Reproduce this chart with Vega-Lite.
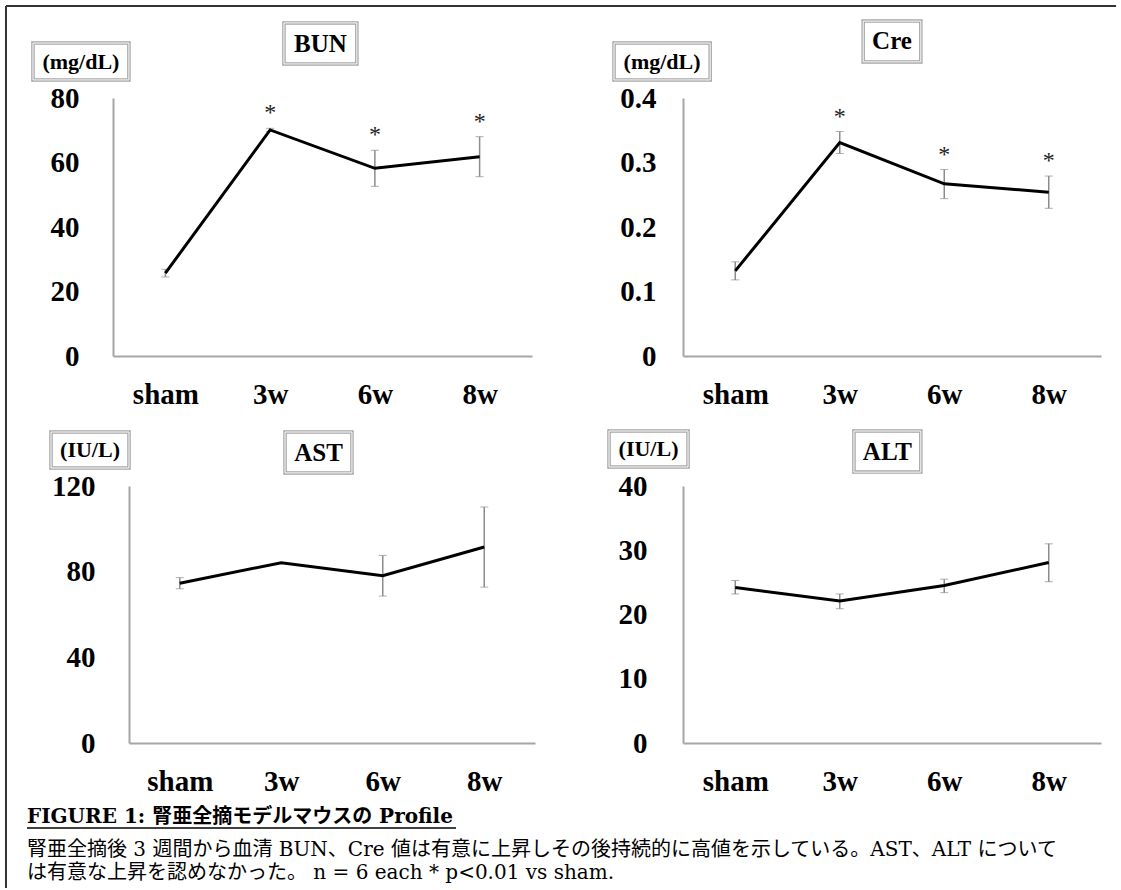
{
  "$schema": "https://vega.github.io/schema/vega-lite/v6.json",
  "padding": {"left": 4, "top": 4, "right": 0, "bottom": 0},
  "background": "#ffffff",
  "bounds": "flush",
  "align": "none",
  "columns": 2,
  "spacing": {"row": 130, "column": 141},
  "datasets": {
    "d": [
      {"panel": "BUN", "t": "sham", "mean": 25.7, "lo": 24.5, "hi": 26.9, "sig": ""},
      {"panel": "BUN", "t": "3w", "mean": 70.1, "lo": 69.6, "hi": 70.6, "sig": "*"},
      {"panel": "BUN", "t": "6w", "mean": 58.2, "lo": 52.6, "hi": 63.8, "sig": "*"},
      {"panel": "BUN", "t": "8w", "mean": 61.8, "lo": 55.6, "hi": 68.0, "sig": "*"},
      {"panel": "Cre", "t": "sham", "mean": 0.132, "lo": 0.118, "hi": 0.146, "sig": ""},
      {"panel": "Cre", "t": "3w", "mean": 0.331, "lo": 0.314, "hi": 0.348, "sig": "*"},
      {"panel": "Cre", "t": "6w", "mean": 0.267, "lo": 0.244, "hi": 0.289, "sig": "*"},
      {"panel": "Cre", "t": "8w", "mean": 0.254, "lo": 0.229, "hi": 0.279, "sig": "*"},
      {"panel": "AST", "t": "sham", "mean": 74.6, "lo": 72.0, "hi": 77.2, "sig": ""},
      {"panel": "AST", "t": "3w", "mean": 84.2, "lo": 84.2, "hi": 84.2, "sig": ""},
      {"panel": "AST", "t": "6w", "mean": 78.1, "lo": 68.6, "hi": 87.6, "sig": ""},
      {"panel": "AST", "t": "8w", "mean": 91.5, "lo": 72.8, "hi": 110.2, "sig": ""},
      {"panel": "ALT", "t": "sham", "mean": 24.2, "lo": 23.2, "hi": 25.3, "sig": ""},
      {"panel": "ALT", "t": "3w", "mean": 22.1, "lo": 20.9, "hi": 23.2, "sig": ""},
      {"panel": "ALT", "t": "6w", "mean": 24.5, "lo": 23.4, "hi": 25.5, "sig": ""},
      {"panel": "ALT", "t": "8w", "mean": 28.1, "lo": 25.1, "hi": 31.0, "sig": ""}
    ]
  },
  "config": {
    "view": {"stroke": null},
    "axis": {
      "labelFont": "Liberation Serif",
      "labelFontWeight": "bold",
      "labelFontSize": 29,
      "labelColor": "#000000",
      "ticks": false,
      "grid": false,
      "domainColor": "#a6a6a6",
      "domainWidth": 2,
      "labelOverlap": false
    },
    "text": {"font": "Liberation Serif"}
  },
  "concat": [
    {
      "width": 419, "height": 258,
      "resolve": {"scale": {"x": "independent", "y": "independent"}},
      "layer": [
        {"data": {"name": "d"}, "transform": [{"filter": "datum.panel == 'BUN'"}],
         "mark": {"type": "errorbar", "ticks": {"size": 8, "color": "#8c8c8c", "strokeWidth": 1.5}, "rule": {"color": "#8c8c8c", "strokeWidth": 1.5}},
         "encoding": {
           "x": {"field": "t", "type": "nominal", "sort": ["sham", "3w", "6w", "8w"], "scale": {"type": "point", "padding": 0.5}, "axis": null},
           "y": {"field": "lo", "type": "quantitative", "scale": {"domain": [0, 80], "nice": false}, "axis": null},
           "y2": {"field": "hi"}}},
        {"data": {"name": "d"}, "transform": [{"filter": "datum.panel == 'BUN'"}],
         "mark": {"type": "line", "color": "#000000", "strokeWidth": 3},
         "encoding": {
           "x": {"field": "t", "type": "nominal", "sort": ["sham", "3w", "6w", "8w"], "scale": {"type": "point", "padding": 0.5}, "axis": {"title": null, "labelAngle": 0, "labelPadding": 24}},
           "y": {"field": "mean", "type": "quantitative", "scale": {"domain": [0, 80], "nice": false}, "axis": {"title": null, "values": [0, 20, 40, 60, 80], "labelPadding": 34}}}},
        {"data": {"name": "d"}, "transform": [{"filter": "datum.panel == 'BUN'"}],
         "mark": {"type": "text", "fontSize": 24, "baseline": "alphabetic", "dy": -8, "color": "#222222"},
         "encoding": {
           "x": {"field": "t", "type": "nominal", "sort": ["sham", "3w", "6w", "8w"], "scale": {"type": "point", "padding": 0.5}, "axis": null},
           "y": {"field": "hi", "type": "quantitative", "scale": {"domain": [0, 80], "nice": false}, "axis": null},
           "text": {"field": "sig"}}},
        {"data": {"values": [{}]},
         "mark": {"type": "rule", "color": "#333333", "strokeWidth": 2},
         "encoding": {
           "x": {"datum": -0.2554, "type": "quantitative", "scale": {"domain": [0, 1]}, "axis": null},
           "y": {"datum": 1.3566, "type": "quantitative", "scale": {"domain": [0, 1]}, "axis": null},
           "y2": {"datum": -2.062}}},
        {"data": {"values": [{}]},
         "mark": {"type": "rule", "color": "#333333", "strokeWidth": 2},
         "encoding": {
           "x": {"datum": -0.2554, "type": "quantitative", "scale": {"domain": [0, 1]}, "axis": null},
           "x2": {"datum": 2.394},
           "y": {"datum": 1.3566, "type": "quantitative", "scale": {"domain": [0, 1]}, "axis": null}}},
        {"data": {"values": [{}]},
         "mark": {"type": "rect", "fill": "#ffffff", "stroke": "#a6a6a6", "strokeWidth": 3.5},
         "encoding": {
           "x": {"datum": 0.408, "type": "quantitative", "scale": {"domain": [0, 1]}, "axis": null},
           "x2": {"datum": 0.582},
           "y": {"datum": 1.132, "type": "quantitative", "scale": {"domain": [0, 1]}, "axis": null},
           "y2": {"datum": 1.291}}},
        {"data": {"values": [{}]},
         "mark": {"type": "rect", "fillOpacity": 0, "stroke": "#ffffff", "strokeWidth": 1},
         "encoding": {
           "x": {"datum": 0.408, "type": "quantitative", "scale": {"domain": [0, 1]}, "axis": null},
           "x2": {"datum": 0.582},
           "y": {"datum": 1.132, "type": "quantitative", "scale": {"domain": [0, 1]}, "axis": null},
           "y2": {"datum": 1.291}}},
        {"data": {"values": [{}]},
         "mark": {"type": "text", "text": "BUN", "fontWeight": "bold", "fontSize": 25, "color": "#000000"},
         "encoding": {
           "x": {"datum": 0.495, "type": "quantitative", "scale": {"domain": [0, 1]}, "axis": null},
           "y": {"datum": 1.211, "type": "quantitative", "scale": {"domain": [0, 1]}, "axis": null}}},
        {"data": {"values": [{}]},
         "mark": {"type": "rect", "fill": "#ffffff", "stroke": "#a6a6a6", "strokeWidth": 3.5},
         "encoding": {
           "x": {"datum": -0.191, "type": "quantitative", "scale": {"domain": [0, 1]}, "axis": null},
           "x2": {"datum": 0.038},
           "y": {"datum": 1.07, "type": "quantitative", "scale": {"domain": [0, 1]}, "axis": null},
           "y2": {"datum": 1.213}}},
        {"data": {"values": [{}]},
         "mark": {"type": "rect", "fillOpacity": 0, "stroke": "#ffffff", "strokeWidth": 1},
         "encoding": {
           "x": {"datum": -0.191, "type": "quantitative", "scale": {"domain": [0, 1]}, "axis": null},
           "x2": {"datum": 0.038},
           "y": {"datum": 1.07, "type": "quantitative", "scale": {"domain": [0, 1]}, "axis": null},
           "y2": {"datum": 1.213}}},
        {"data": {"values": [{}]},
         "mark": {"type": "text", "text": "(mg/dL)", "fontWeight": "bold", "fontSize": 22, "color": "#000000"},
         "encoding": {
           "x": {"datum": -0.0765, "type": "quantitative", "scale": {"domain": [0, 1]}, "axis": null},
           "y": {"datum": 1.141, "type": "quantitative", "scale": {"domain": [0, 1]}, "axis": null}}}
      ]
    },
    {
      "width": 418, "height": 258,
      "resolve": {"scale": {"x": "independent", "y": "independent"}},
      "layer": [
        {"data": {"name": "d"}, "transform": [{"filter": "datum.panel == 'Cre'"}],
         "mark": {"type": "errorbar", "ticks": {"size": 8, "color": "#8c8c8c", "strokeWidth": 1.5}, "rule": {"color": "#8c8c8c", "strokeWidth": 1.5}},
         "encoding": {
           "x": {"field": "t", "type": "nominal", "sort": ["sham", "3w", "6w", "8w"], "scale": {"type": "point", "padding": 0.5}, "axis": null},
           "y": {"field": "lo", "type": "quantitative", "scale": {"domain": [0, 0.4], "nice": false}, "axis": null},
           "y2": {"field": "hi"}}},
        {"data": {"name": "d"}, "transform": [{"filter": "datum.panel == 'Cre'"}],
         "mark": {"type": "line", "color": "#000000", "strokeWidth": 3},
         "encoding": {
           "x": {"field": "t", "type": "nominal", "sort": ["sham", "3w", "6w", "8w"], "scale": {"type": "point", "padding": 0.5}, "axis": {"title": null, "labelAngle": 0, "labelPadding": 24}},
           "y": {"field": "mean", "type": "quantitative", "scale": {"domain": [0, 0.4], "nice": false}, "axis": {"title": null, "values": [0, 0.1, 0.2, 0.3, 0.4], "format": "~g", "labelPadding": 27}}}},
        {"data": {"name": "d"}, "transform": [{"filter": "datum.panel == 'Cre'"}],
         "mark": {"type": "text", "fontSize": 24, "baseline": "alphabetic", "dy": -8, "color": "#222222"},
         "encoding": {
           "x": {"field": "t", "type": "nominal", "sort": ["sham", "3w", "6w", "8w"], "scale": {"type": "point", "padding": 0.5}, "axis": null},
           "y": {"field": "hi", "type": "quantitative", "scale": {"domain": [0, 0.4], "nice": false}, "axis": null},
           "text": {"field": "sig"}}},
        {"data": {"values": [{}]},
         "mark": {"type": "rect", "fill": "#ffffff", "stroke": "#a6a6a6", "strokeWidth": 3.5},
         "encoding": {
           "x": {"datum": 0.431, "type": "quantitative", "scale": {"domain": [0, 1]}, "axis": null},
           "x2": {"datum": 0.569},
           "y": {"datum": 1.14, "type": "quantitative", "scale": {"domain": [0, 1]}, "axis": null},
           "y2": {"datum": 1.298}}},
        {"data": {"values": [{}]},
         "mark": {"type": "rect", "fillOpacity": 0, "stroke": "#ffffff", "strokeWidth": 1},
         "encoding": {
           "x": {"datum": 0.431, "type": "quantitative", "scale": {"domain": [0, 1]}, "axis": null},
           "x2": {"datum": 0.569},
           "y": {"datum": 1.14, "type": "quantitative", "scale": {"domain": [0, 1]}, "axis": null},
           "y2": {"datum": 1.298}}},
        {"data": {"values": [{}]},
         "mark": {"type": "text", "text": "Cre", "fontWeight": "bold", "fontSize": 25, "color": "#000000"},
         "encoding": {
           "x": {"datum": 0.5, "type": "quantitative", "scale": {"domain": [0, 1]}, "axis": null},
           "y": {"datum": 1.219, "type": "quantitative", "scale": {"domain": [0, 1]}, "axis": null}}},
        {"data": {"values": [{}]},
         "mark": {"type": "rect", "fill": "#ffffff", "stroke": "#a6a6a6", "strokeWidth": 3.5},
         "encoding": {
           "x": {"datum": -0.165, "type": "quantitative", "scale": {"domain": [0, 1]}, "axis": null},
           "x2": {"datum": 0.065},
           "y": {"datum": 1.07, "type": "quantitative", "scale": {"domain": [0, 1]}, "axis": null},
           "y2": {"datum": 1.213}}},
        {"data": {"values": [{}]},
         "mark": {"type": "rect", "fillOpacity": 0, "stroke": "#ffffff", "strokeWidth": 1},
         "encoding": {
           "x": {"datum": -0.165, "type": "quantitative", "scale": {"domain": [0, 1]}, "axis": null},
           "x2": {"datum": 0.065},
           "y": {"datum": 1.07, "type": "quantitative", "scale": {"domain": [0, 1]}, "axis": null},
           "y2": {"datum": 1.213}}},
        {"data": {"values": [{}]},
         "mark": {"type": "text", "text": "(mg/dL)", "fontWeight": "bold", "fontSize": 22, "color": "#000000"},
         "encoding": {
           "x": {"datum": -0.05, "type": "quantitative", "scale": {"domain": [0, 1]}, "axis": null},
           "y": {"datum": 1.141, "type": "quantitative", "scale": {"domain": [0, 1]}, "axis": null}}}
      ]
    },
    {
      "width": 429, "height": 257,
      "resolve": {"scale": {"x": "independent", "y": "independent"}},
      "layer": [
        {"data": {"name": "d"}, "transform": [{"filter": "datum.panel == 'AST'"}],
         "mark": {"type": "errorbar", "ticks": {"size": 8, "color": "#8c8c8c", "strokeWidth": 1.5}, "rule": {"color": "#8c8c8c", "strokeWidth": 1.5}},
         "encoding": {
           "x": {"field": "t", "type": "nominal", "sort": ["sham", "3w", "6w", "8w"], "scale": {"type": "point", "padding": 0.5, "range": [16, 422]}, "axis": null},
           "y": {"field": "lo", "type": "quantitative", "scale": {"domain": [0, 120], "nice": false}, "axis": null},
           "y2": {"field": "hi"}}},
        {"data": {"name": "d"}, "transform": [{"filter": "datum.panel == 'AST'"}],
         "mark": {"type": "line", "color": "#000000", "strokeWidth": 3},
         "encoding": {
           "x": {"field": "t", "type": "nominal", "sort": ["sham", "3w", "6w", "8w"], "scale": {"type": "point", "padding": 0.5, "range": [16, 422]}, "axis": {"title": null, "labelAngle": 0, "labelPadding": 24}},
           "y": {"field": "mean", "type": "quantitative", "scale": {"domain": [0, 120], "nice": false}, "axis": {"title": null, "values": [0, 40, 80, 120], "labelPadding": 34, "offset": -16}}}},
        {"data": {"values": [{}]},
         "mark": {"type": "rect", "fill": "#ffffff", "stroke": "#a6a6a6", "strokeWidth": 3.5},
         "encoding": {
           "x": {"datum": 0.401, "type": "quantitative", "scale": {"domain": [0, 1]}, "axis": null},
           "x2": {"datum": 0.557},
           "y": {"datum": 1.051, "type": "quantitative", "scale": {"domain": [0, 1]}, "axis": null},
           "y2": {"datum": 1.21}}},
        {"data": {"values": [{}]},
         "mark": {"type": "rect", "fillOpacity": 0, "stroke": "#ffffff", "strokeWidth": 1},
         "encoding": {
           "x": {"datum": 0.401, "type": "quantitative", "scale": {"domain": [0, 1]}, "axis": null},
           "x2": {"datum": 0.557},
           "y": {"datum": 1.051, "type": "quantitative", "scale": {"domain": [0, 1]}, "axis": null},
           "y2": {"datum": 1.21}}},
        {"data": {"values": [{}]},
         "mark": {"type": "text", "text": "AST", "fontWeight": "bold", "fontSize": 25, "color": "#000000"},
         "encoding": {
           "x": {"datum": 0.479, "type": "quantitative", "scale": {"domain": [0, 1]}, "axis": null},
           "y": {"datum": 1.13, "type": "quantitative", "scale": {"domain": [0, 1]}, "axis": null}}},
        {"data": {"values": [{}]},
         "mark": {"type": "rect", "fill": "#ffffff", "stroke": "#a6a6a6", "strokeWidth": 3.5},
         "encoding": {
           "x": {"datum": -0.1445, "type": "quantitative", "scale": {"domain": [0, 1]}, "axis": null},
           "x2": {"datum": 0.0373},
           "y": {"datum": 1.07, "type": "quantitative", "scale": {"domain": [0, 1]}, "axis": null},
           "y2": {"datum": 1.21}}},
        {"data": {"values": [{}]},
         "mark": {"type": "rect", "fillOpacity": 0, "stroke": "#ffffff", "strokeWidth": 1},
         "encoding": {
           "x": {"datum": -0.1445, "type": "quantitative", "scale": {"domain": [0, 1]}, "axis": null},
           "x2": {"datum": 0.0373},
           "y": {"datum": 1.07, "type": "quantitative", "scale": {"domain": [0, 1]}, "axis": null},
           "y2": {"datum": 1.21}}},
        {"data": {"values": [{}]},
         "mark": {"type": "text", "text": "(IU/L)", "fontWeight": "bold", "fontSize": 22, "color": "#000000"},
         "encoding": {
           "x": {"datum": -0.0536, "type": "quantitative", "scale": {"domain": [0, 1]}, "axis": null},
           "y": {"datum": 1.14, "type": "quantitative", "scale": {"domain": [0, 1]}, "axis": null}}},
        {"data": {"values": [{}]},
         "mark": {"type": "text", "text": "FIGURE 1: 腎亜全摘モデルマウスの Profile", "font": "DejaVu Serif, Noto Sans CJK JP", "fontWeight": "bold", "fontSize": 20, "align": "left", "color": "#000000"},
         "encoding": {
           "x": {"datum": -0.2005, "type": "quantitative", "scale": {"domain": [0, 1]}, "axis": null},
           "y": {"datum": -0.288, "type": "quantitative", "scale": {"domain": [0, 1]}, "axis": null}}},
        {"data": {"values": [{}]},
         "mark": {"type": "rule", "color": "#000000", "strokeWidth": 1.5},
         "encoding": {
           "x": {"datum": -0.2005, "type": "quantitative", "scale": {"domain": [0, 1]}, "axis": null},
           "x2": {"datum": 0.7995},
           "y": {"datum": -0.331, "type": "quantitative", "scale": {"domain": [0, 1]}, "axis": null}}},
        {"data": {"values": [{}]},
         "mark": {"type": "text", "text": "腎亜全摘後 3 週間から血清 BUN、Cre 値は有意に上昇しその後持続的に高値を示している。AST、ALT について", "font": "DejaVu Serif, Noto Sans CJK JP", "fontSize": 20, "align": "left", "color": "#000000"},
         "encoding": {
           "x": {"datum": -0.2005, "type": "quantitative", "scale": {"domain": [0, 1]}, "axis": null},
           "y": {"datum": -0.416, "type": "quantitative", "scale": {"domain": [0, 1]}, "axis": null}}},
        {"data": {"values": [{}]},
         "mark": {"type": "text", "text": "は有意な上昇を認めなかった。 n = 6 each * p<0.01 vs sham.", "font": "DejaVu Serif, Noto Sans CJK JP", "fontSize": 20, "align": "left", "color": "#000000"},
         "encoding": {
           "x": {"datum": -0.2005, "type": "quantitative", "scale": {"domain": [0, 1]}, "axis": null},
           "y": {"datum": -0.506, "type": "quantitative", "scale": {"domain": [0, 1]}, "axis": null}}}
      ]
    },
    {
      "width": 418, "height": 257,
      "resolve": {"scale": {"x": "independent", "y": "independent"}},
      "layer": [
        {"data": {"name": "d"}, "transform": [{"filter": "datum.panel == 'ALT'"}],
         "mark": {"type": "errorbar", "ticks": {"size": 8, "color": "#8c8c8c", "strokeWidth": 1.5}, "rule": {"color": "#8c8c8c", "strokeWidth": 1.5}},
         "encoding": {
           "x": {"field": "t", "type": "nominal", "sort": ["sham", "3w", "6w", "8w"], "scale": {"type": "point", "padding": 0.5}, "axis": null},
           "y": {"field": "lo", "type": "quantitative", "scale": {"domain": [0, 40], "nice": false}, "axis": null},
           "y2": {"field": "hi"}}},
        {"data": {"name": "d"}, "transform": [{"filter": "datum.panel == 'ALT'"}],
         "mark": {"type": "line", "color": "#000000", "strokeWidth": 3},
         "encoding": {
           "x": {"field": "t", "type": "nominal", "sort": ["sham", "3w", "6w", "8w"], "scale": {"type": "point", "padding": 0.5}, "axis": {"title": null, "labelAngle": 0, "labelPadding": 24}},
           "y": {"field": "mean", "type": "quantitative", "scale": {"domain": [0, 40], "nice": false}, "axis": {"title": null, "values": [0, 10, 20, 30, 40], "labelPadding": 36}}}},
        {"data": {"values": [{}]},
         "mark": {"type": "rect", "fill": "#ffffff", "stroke": "#a6a6a6", "strokeWidth": 3.5},
         "encoding": {
           "x": {"datum": 0.409, "type": "quantitative", "scale": {"domain": [0, 1]}, "axis": null},
           "x2": {"datum": 0.569},
           "y": {"datum": 1.054, "type": "quantitative", "scale": {"domain": [0, 1]}, "axis": null},
           "y2": {"datum": 1.214}}},
        {"data": {"values": [{}]},
         "mark": {"type": "rect", "fillOpacity": 0, "stroke": "#ffffff", "strokeWidth": 1},
         "encoding": {
           "x": {"datum": 0.409, "type": "quantitative", "scale": {"domain": [0, 1]}, "axis": null},
           "x2": {"datum": 0.569},
           "y": {"datum": 1.054, "type": "quantitative", "scale": {"domain": [0, 1]}, "axis": null},
           "y2": {"datum": 1.214}}},
        {"data": {"values": [{}]},
         "mark": {"type": "text", "text": "ALT", "fontWeight": "bold", "fontSize": 25, "color": "#000000"},
         "encoding": {
           "x": {"datum": 0.489, "type": "quantitative", "scale": {"domain": [0, 1]}, "axis": null},
           "y": {"datum": 1.134, "type": "quantitative", "scale": {"domain": [0, 1]}, "axis": null}}},
        {"data": {"values": [{}]},
         "mark": {"type": "rect", "fill": "#ffffff", "stroke": "#a6a6a6", "strokeWidth": 3.5},
         "encoding": {
           "x": {"datum": -0.177, "type": "quantitative", "scale": {"domain": [0, 1]}, "axis": null},
           "x2": {"datum": 0.012},
           "y": {"datum": 1.074, "type": "quantitative", "scale": {"domain": [0, 1]}, "axis": null},
           "y2": {"datum": 1.214}}},
        {"data": {"values": [{}]},
         "mark": {"type": "rect", "fillOpacity": 0, "stroke": "#ffffff", "strokeWidth": 1},
         "encoding": {
           "x": {"datum": -0.177, "type": "quantitative", "scale": {"domain": [0, 1]}, "axis": null},
           "x2": {"datum": 0.012},
           "y": {"datum": 1.074, "type": "quantitative", "scale": {"domain": [0, 1]}, "axis": null},
           "y2": {"datum": 1.214}}},
        {"data": {"values": [{}]},
         "mark": {"type": "text", "text": "(IU/L)", "fontWeight": "bold", "fontSize": 22, "color": "#000000"},
         "encoding": {
           "x": {"datum": -0.0825, "type": "quantitative", "scale": {"domain": [0, 1]}, "axis": null},
           "y": {"datum": 1.144, "type": "quantitative", "scale": {"domain": [0, 1]}, "axis": null}}}
      ]
    }
  ]
}
